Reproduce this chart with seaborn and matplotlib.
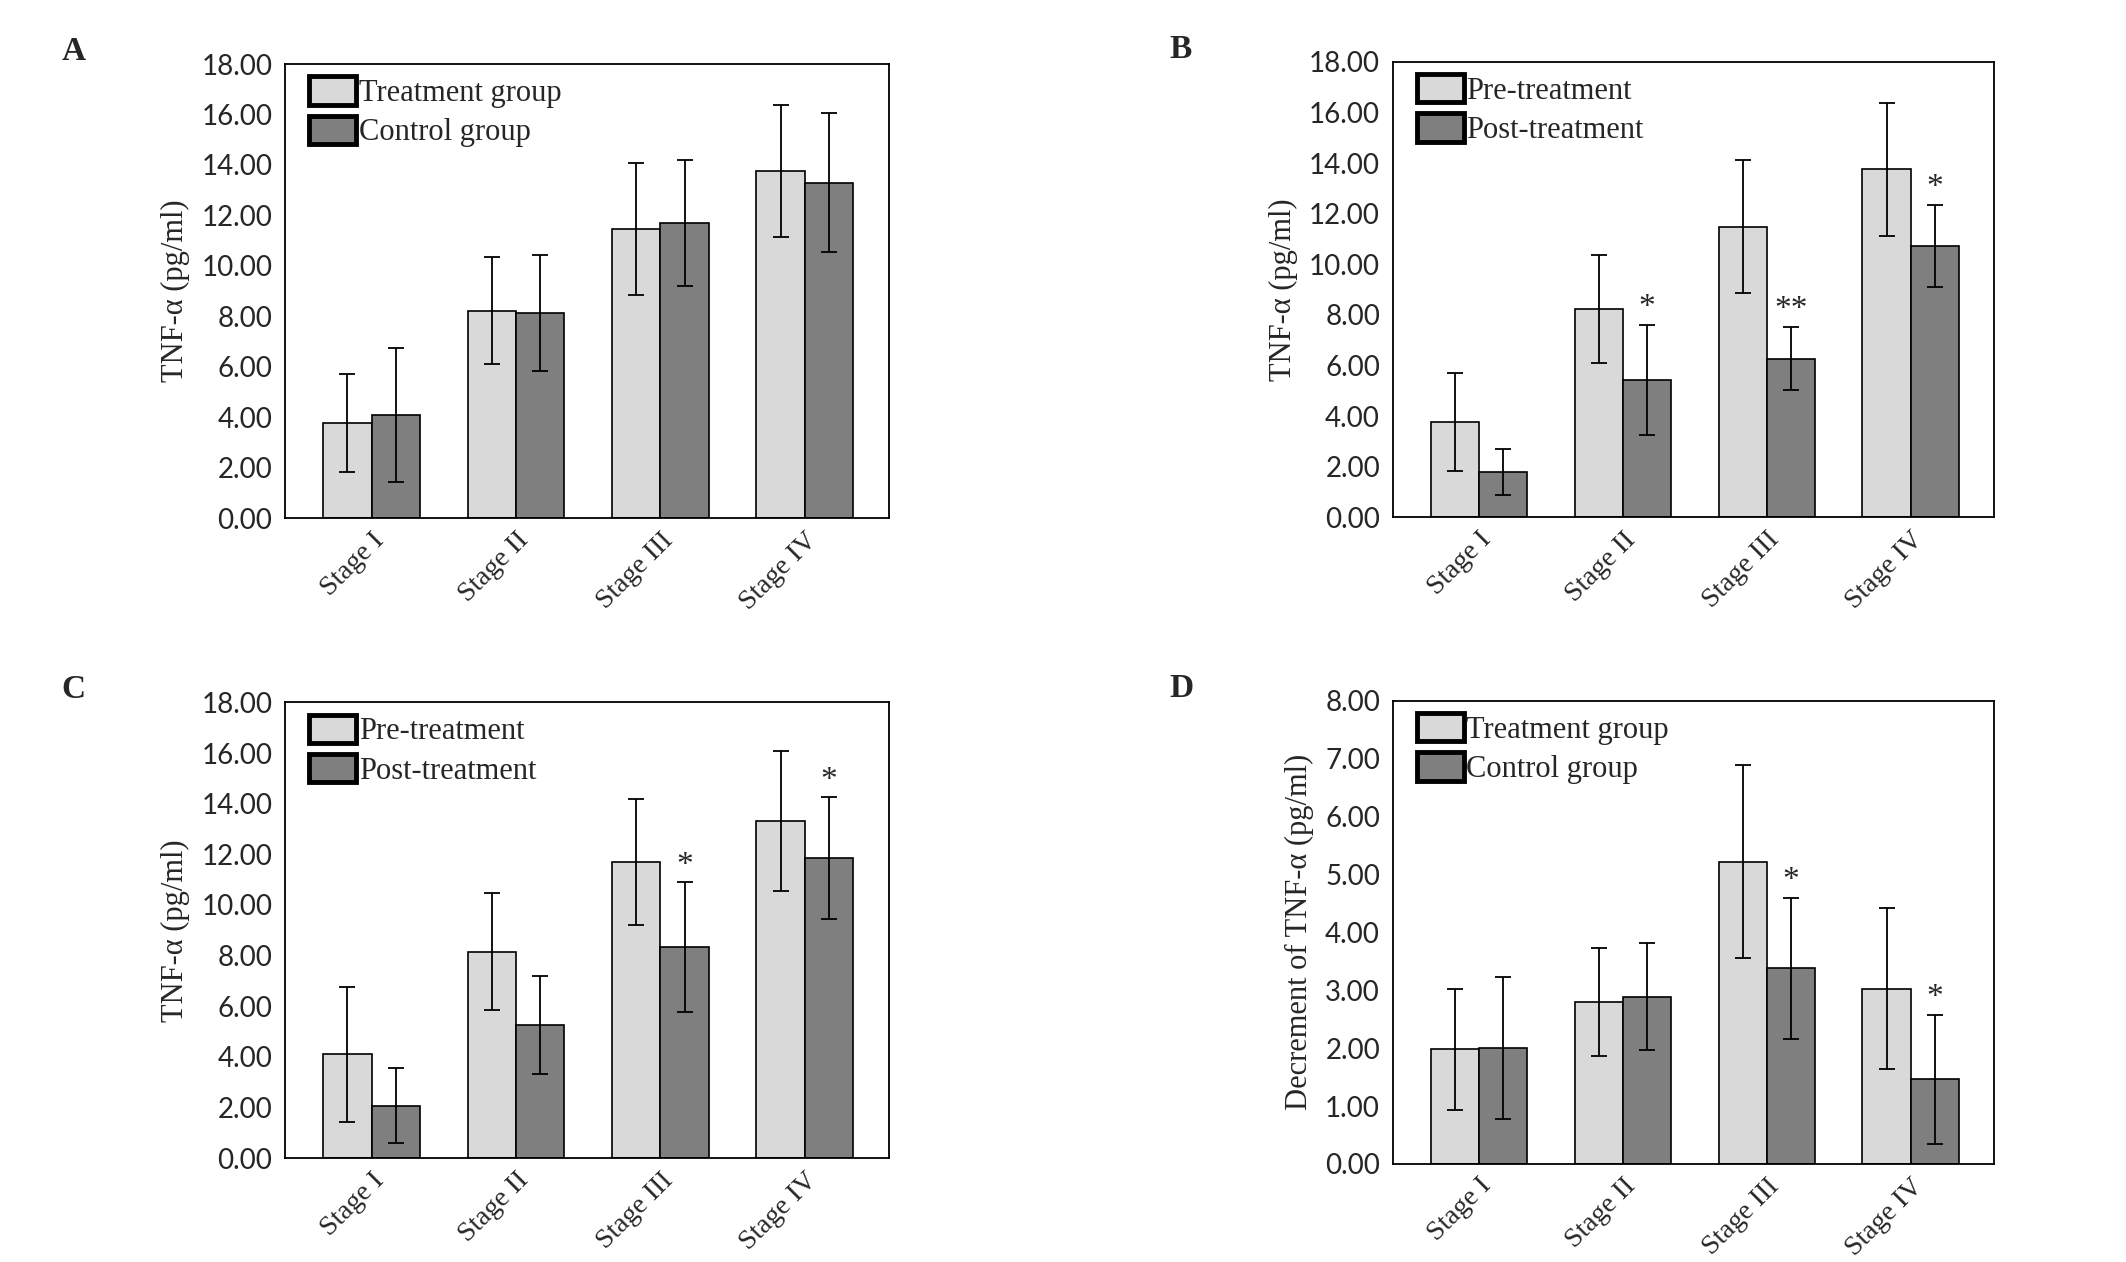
import numpy as np
import pandas as pd
import matplotlib
matplotlib.use("Agg")
import matplotlib.pyplot as plt
from matplotlib.transforms import ScaledTranslation
import seaborn as sns

# --- data (mean and SD) ---
stages = ['Stage I', 'Stage II', 'Stage III', 'Stage IV']

# A: treatment vs control before treatment
a_treat_mean = [3.77, 8.22, 11.47, 13.76]
a_treat_sd = [1.93, 2.12, 2.62, 2.62]
a_ctrl_mean = [4.08, 8.13, 11.70, 13.30]
a_ctrl_sd = [2.66, 2.31, 2.49, 2.77]

# B: treatment group pre / post
b_pre_mean = [3.78, 8.23, 11.49, 13.75]
b_pre_sd = [1.93, 2.12, 2.62, 2.63]
b_post_mean = [1.80, 5.43, 6.27, 10.72]
b_post_sd = [0.90, 2.18, 1.25, 1.62]
b_stars = ['', '*', '**', '*']

# C: control group pre / post
c_pre_mean = [4.09, 8.15, 11.70, 13.31]
c_pre_sd = [2.66, 2.32, 2.50, 2.78]
c_post_mean = [2.06, 5.25, 8.33, 11.84]
c_post_sd = [1.48, 1.95, 2.56, 2.41]
c_stars = ['', '', '*', '*']

# D: decrement
d_treat_mean = [1.98, 2.80, 5.22, 3.03]
d_treat_sd = [1.05, 0.93, 1.67, 1.39]
d_ctrl_mean = [2.00, 2.89, 3.38, 1.46]
d_ctrl_sd = [1.23, 0.92, 1.22, 1.12]
d_stars = ['', '', '*', '*']

light = '#d9d9d9'
dark = '#7f7f7f'

sns.set_style('white')
plt.rcParams['font.family'] = ['Liberation Serif', 'DejaVu Serif']

fig = plt.figure(figsize=(21.26, 12.62), dpi=100)

panels = [
    ('A', [0.134, 0.5895, 0.284, 0.3597], ('Treatment group', 'Control group'),
     a_treat_mean, a_treat_sd, a_ctrl_mean, a_ctrl_sd, None, 18, 'TNF-α (pg/ml)'),
    ('B', [0.655, 0.590, 0.283, 0.361], ('Pre-treatment', 'Post-treatment'),
     b_pre_mean, b_pre_sd, b_post_mean, b_post_sd, b_stars, 18, 'TNF-α (pg/ml)'),
    ('C', [0.134, 0.0824, 0.284, 0.361], ('Pre-treatment', 'Post-treatment'),
     c_pre_mean, c_pre_sd, c_post_mean, c_post_sd, c_stars, 18, 'TNF-α (pg/ml)'),
    ('D', [0.655, 0.0777, 0.283, 0.367], ('Treatment group', 'Control group'),
     d_treat_mean, d_treat_sd, d_ctrl_mean, d_ctrl_sd, d_stars, 8, 'Decrement of TNF-α (pg/ml)'),
]

label_shift = ScaledTranslation(7 / 72, 0, fig.dpi_scale_trans)

for letter, rect, names, m1, s1, m2, s2, stars, ymax, ylab in panels:
    ax = fig.add_axes(rect)
    df = pd.DataFrame({
        'stage': stages * 2,
        'group': [names[0]] * 4 + [names[1]] * 4,
        'value': m1 + m2,
        'sd': s1 + s2,
    })
    sns.barplot(data=df, x='stage', y='value', hue='group', order=stages,
                hue_order=list(names), palette={names[0]: light, names[1]: dark},
                width=0.67, errorbar=None, edgecolor='black', linewidth=1.2,
                saturation=1, ax=ax)

    # error bars at the centres of the drawn bars
    bars = [p for p in ax.patches if p.get_height() > 0][:8]
    xs = [p.get_x() + p.get_width() / 2 for p in bars]
    hs = [p.get_height() for p in bars]
    ax.errorbar(xs, hs, yerr=df['sd'].values, fmt='none', ecolor='black',
                elinewidth=1.3, capsize=6, capthick=1.3)

    if stars is not None:
        for i, s in enumerate(stars):
            if s:
                x = xs[4 + i]
                top = hs[4 + i] + df['sd'].values[4 + i]
                ax.text(x, top + ymax * 0.004, s, ha='center', va='bottom',
                        fontsize=24)

    ax.set_ylim(0, ymax)
    ax.set_xlim(-0.6, 3.58)
    step = 2 if ymax == 18 else 1
    ax.set_yticks(np.arange(0, ymax + 0.01, step))
    ax.set_yticklabels([f'{v:.2f}' for v in np.arange(0, ymax + 0.01, step)],
                       family=['Lato', 'DejaVu Sans'], fontsize=20)
    ax.set_xticks(range(4))
    ax.set_xticklabels(stages, rotation=45, ha='right', rotation_mode='anchor',
                       fontsize=20)
    for lab in ax.get_xticklabels():
        lab.set_transform(lab.get_transform() + label_shift)
    ax.tick_params(axis='x', length=0, pad=7)
    ax.tick_params(axis='y', length=5, width=1.2, direction='out', pad=4)
    ax.set_xlabel('')
    ax.set_ylabel(ylab, fontsize=22, labelpad=8)
    for sp in ax.spines.values():
        sp.set_linewidth(1.3)
        sp.set_color('black')

    leg = ax.legend(loc='upper left', bbox_to_anchor=(0.012, 1.01), frameon=False,
                    fontsize=22, handlelength=1.55, handleheight=1.05,
                    handletextpad=0.08, labelspacing=0.25, borderaxespad=0.15)
    for h in leg.legend_handles:
        h.set_edgecolor('black')
        h.set_linewidth(3.5)

    fig.text(rect[0] - 0.105, rect[1] + rect[3] + 0.010, letter,
             fontsize=24, fontweight='bold', ha='left', va='center')

fig.savefig('out.png', dpi=100)
